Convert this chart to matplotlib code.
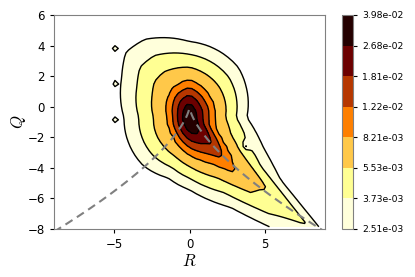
import numpy as np
import matplotlib
matplotlib.use("Agg")
import matplotlib.pyplot as plt
from matplotlib.colors import LogNorm

plt.rcParams['mathtext.fontset'] = 'cm'

# ---- density model ----
# contour levels: log-spaced between 10^-2.6 and 10^-1.4 (8 boundaries)
level_log_min = -2.6
level_log_max = -1.4
n_levels = 8
peak_value = 0.0395
center_R = 0.0
center_Q = -0.7

# directions (deg) and distances from the peak at which density falls to
# the 7th (2.68e-2), 4th (8.21e-3) and 1st (2.51e-3) boundary
dir_angles = [0, 45, 90, 120, 135, 150, 180, 225, 250, 270, 295, 310, 318, 326, 338]
radius_L7 = [0.45, 0.6, 1.0, 0.75, 0.6, 0.5, 0.45, 0.55, 0.75, 1.0, 1.2, 1.05, 0.9, 0.7, 0.55]
radius_L4 = [1.67, 1.9, 2.44, 2.2, 1.94, 1.7, 1.4, 1.6, 1.99, 2.45, 3.28, 4.7, 3.6, 2.56, 1.8]
radius_L1 = [3.8, 4.6, 4.96, 5.9, 6.0, 5.2, 4.35, 4.4, 4.2, 4.73, 6.5, 10.0, 14.0, 7.3, 5.3]

# small isolated islands outside the outer level, and a small hole inside it
island_R = [-5.0, -5.0, -5.0, -4.2]
island_Q = [3.8, 1.6, -0.9, -1.75]
island_value = [3.6e-3, 3.6e-3, 3.6e-3, 2.8e-3]
hole_R = [3.8]
hole_Q = [-2.5]
hole_depth = [0.5]

# histogram bins
R_edges = np.linspace(-9, 9, 61)
Q_edges = np.linspace(-8, 6, 49)

levels = np.logspace(level_log_min, level_log_max, n_levels)

Rc = 0.5 * (R_edges[:-1] + R_edges[1:])
Qc = 0.5 * (Q_edges[:-1] + Q_edges[1:])
RR, QQ = np.meshgrid(Rc, Qc)
dx = RR - center_R
dy = QQ - center_Q
rr = np.hypot(dx, dy)
th = np.degrees(np.arctan2(dy, dx)) % 360


def radius_at(radii):
    inv = np.interp(th, dir_angles, 1.0 / np.asarray(radii), period=360)
    return 1.0 / inv


r7 = radius_at(radius_L7)
r4 = radius_at(radius_L4)
r1 = radius_at(radius_L1)
u0, u7, u4, u1 = np.log([peak_value, levels[6], levels[3], levels[0]])
u = np.where(rr < r7, u0 + (u7 - u0) * rr / r7,
             np.where(rr < r4, u7 + (u4 - u7) * (rr - r7) / (r4 - r7),
                      u4 + (u1 - u4) * (rr - r4) / (r1 - r4)))
density = np.exp(u)
for ir, iq, iv in zip(island_R, island_Q, island_value):
    bump = iv * np.exp(-((RR - ir) ** 2 + (QQ - iq) ** 2) / (2 * 0.2 ** 2))
    density = np.maximum(density, bump)
for hr, hq, hd in zip(hole_R, hole_Q, hole_depth):
    density = density * (1 - hd * np.exp(-((RR - hr) ** 2 + (QQ - hq) ** 2) / (2 * 0.2 ** 2)))
density = np.minimum(density, levels[-1] * 0.999)

# Vieillefosse line
vf_R = np.linspace(-9, 9, 400)
vf_Q = -(27.0 / 4.0 * vf_R ** 2) ** (1.0 / 3.0)

fig = plt.figure(figsize=(4.15, 2.77), dpi=100)
ax = fig.add_axes([54 / 415, 48 / 277, 271 / 415, 214 / 277])
cax = fig.add_axes([342 / 415, 48 / 277, 11 / 415, 214 / 277])

norm = LogNorm(vmin=levels[0], vmax=levels[-1])
cs = ax.contourf(RR, QQ, density, levels=levels, cmap='afmhot_r', norm=norm)
ax.contour(RR, QQ, density, levels=levels, colors='k', linewidths=1.0)
ax.plot(vf_R, vf_Q, '--', color='gray', lw=1.5, dashes=(4, 2.5))
ax.set_xlim(-9, 9)
ax.set_ylim(-8, 6)
ax.set_xticks([-5, 0, 5])
ax.set_yticks([-8, -6, -4, -2, 0, 2, 4, 6])
ax.tick_params(labelsize=8.5, length=3)
ax.set_xlabel('$R$', fontsize=12, labelpad=1)
ax.set_ylabel('$Q$', fontsize=12, labelpad=0)
for s in ax.spines.values():
    s.set_color('#808080')

cb = fig.colorbar(cs, cax=cax, ticks=levels, format='%.2e')
cb.ax.tick_params(labelsize=6.7, length=3)
cb.outline.set_edgecolor('#808080')

fig.savefig('out.png', dpi=100)
